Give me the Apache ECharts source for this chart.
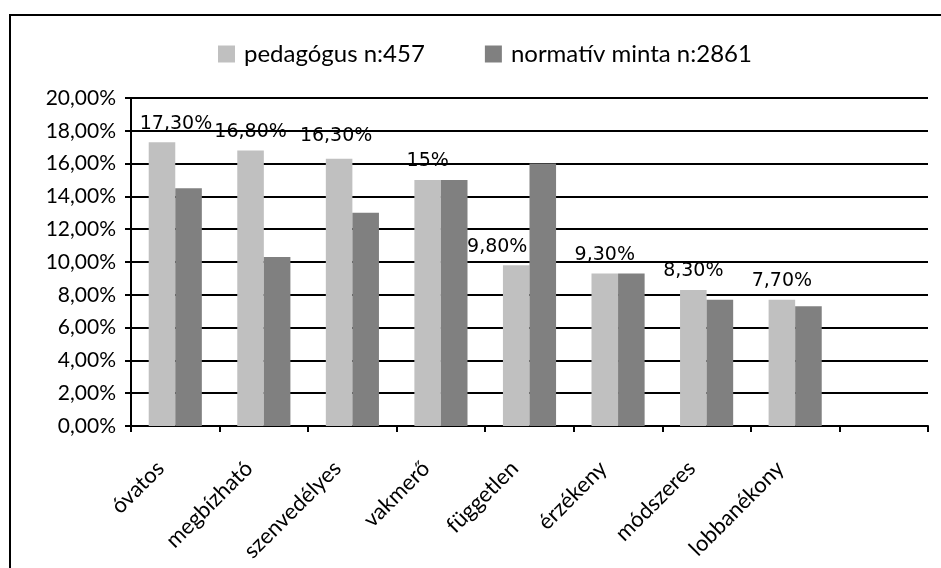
<!DOCTYPE html>
<html>
<head>
<meta charset="utf-8">
<script src="https://cdn.jsdelivr.net/npm/echarts@6/dist/echarts.min.js"></script>
<style>
  html, body { margin: 0; padding: 0; background: #fff; }
  #main { width: 941px; height: 568px; }
</style>
</head>
<body>
<div id="main"></div>
<script>
// kategóriák (az utolsó hely üres, mint az eredetin)
var categories = ['óvatos', 'megbízható', 'szenvedélyes', 'vakmerő', 'független', 'érzékeny', 'módszeres', 'lobbanékony', ''];
var pedagogus = [17.3, 16.8, 16.3, 15, 9.8, 9.3, 8.3, 7.7];
var normativ = [14.5, 10.3, 13, 15, 16, 9.3, 7.7, 7.3];
var seriesNames = ['pedagógus n:457', 'normatív minta n:2861'];

// a címkék kézzel el vannak tolva az eredetin
var labelShift = [[14, 0], [0, 0], [-3, -4], [0, 0], [-19, 0], [0, 0], [0, 0], [0, 0]];

function labelText(v) {
  if (Math.round(v) === v) return v + '%';
  return v.toFixed(2).replace('.', ',') + '%';
}

var chart = echarts.init(document.getElementById('main'));

var pedData = pedagogus.map(function (v, i) {
  return { value: v, label: { offset: labelShift[i] } };
});

var option = {
  backgroundColor: '#fff',
  animation: false,
  graphic: [{
    type: 'rect',
    shape: { x: 10, y: 15, width: 940, height: 565 },
    style: { fill: 'none', stroke: '#000', lineWidth: 2 }
  }],
  legend: {
    data: seriesNames,
    left: 213,
    top: 37,
    itemWidth: 17,
    itemHeight: 17,
    itemGap: 60,
    icon: 'rect',
    textStyle: { fontFamily: 'Lato', fontSize: 24, color: '#000', padding: [0, 0, 0, 4] }
  },
  grid: { left: 131, right: 13, top: 98, bottom: 142 },
  xAxis: {
    type: 'category',
    data: categories,
    axisLine: { lineStyle: { color: '#000', width: 2 } },
    axisTick: { show: true, length: 6, lineStyle: { color: '#000', width: 2 } },
    axisLabel: {
      rotate: 45,
      interval: 0,
      margin: 24,
      padding: [0, 21, 0, 0],
      fontFamily: 'Lato',
      fontSize: 22,
      color: '#000'
    }
  },
  yAxis: {
    type: 'value',
    min: 0,
    max: 20,
    interval: 2,
    axisLine: { show: true, lineStyle: { color: '#000', width: 2 } },
    axisTick: { show: true, length: 6, lineStyle: { color: '#000', width: 2 } },
    splitLine: { lineStyle: { color: '#000', width: 2 } },
    axisLabel: {
      margin: 15,
      fontFamily: 'Lato',
      fontSize: 21,
      color: '#000',
      formatter: function (v) { return v.toFixed(2).replace('.', ',') + '%'; }
    }
  },
  series: [
    {
      name: seriesNames[0],
      type: 'bar',
      data: pedData,
      barGap: '0%',
      barCategoryGap: '40%',
      itemStyle: { color: '#c0c0c0' },
      label: {
        show: true,
        position: 'top',
        distance: 9,
        fontFamily: 'DejaVu Sans',
        fontSize: 19,
        color: '#000',
        formatter: function (p) { return labelText(p.value); }
      }
    },
    {
      name: seriesNames[1],
      type: 'bar',
      data: normativ,
      barGap: '0%',
      barCategoryGap: '40%',
      itemStyle: { color: '#808080' }
    }
  ]
};

chart.setOption(option);
</script>
</body>
</html>
